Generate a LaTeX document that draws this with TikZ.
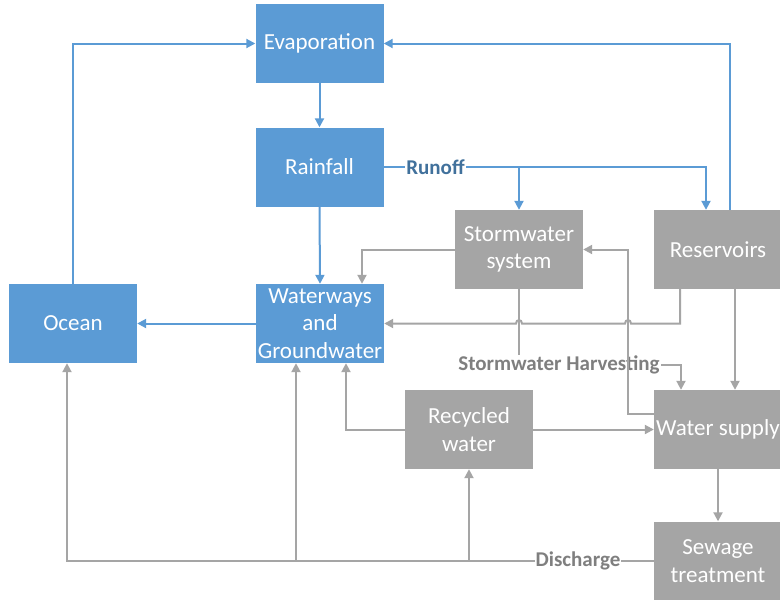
\documentclass[tikz,border=0pt]{standalone}
\usepackage{fontspec}
\setmainfont{Carlito}
\usetikzlibrary{arrows.meta,calc}
\definecolor{bl}{HTML}{5B9BD5}
\definecolor{gr}{HTML}{A5A5A5}
\definecolor{bltext}{HTML}{41719C}
\definecolor{grtext}{HTML}{7F7F7F}
\tikzset{
  box/.style={rectangle, inner sep=0pt, minimum width=128pt, minimum height=79pt, align=center, text=white, font=\fontsize{23}{27.5}\selectfont},
  bbox/.style={box, fill=bl},
  gbox/.style={box, fill=gr},
  bconn/.style={draw=bl, line width=2pt, -{Triangle[length=9pt,width=9pt]}},
  gconn/.style={draw=gr, line width=2pt, -{Triangle[length=9pt,width=9pt]}},
  blab/.style={fill=white, inner sep=1pt, text=bltext, font=\fontsize{21}{24}\selectfont\bfseries},
  glab/.style={fill=white, inner sep=1pt, text=grtext, font=\fontsize{21}{24}\selectfont\bfseries},
}
\begin{document}
\begin{tikzpicture}[x=1pt,y=-1pt]
\fill[white] (0,0) rectangle (780,600);
\useasboundingbox (0,0) rectangle (780,600);
% boxes
\node[bbox] (evap) at (319.5,43.5) {Evaporation};
\node[bbox] (rain) at (319.5,167) {Rainfall};
\node[bbox] (ocean) at (73,323.5) {Ocean};
\node[bbox] (ww) at (320,323.5) {Waterways\\and\\Groundwater};
\node[gbox] (stor) at (519,249.5) {Stormwater\\system};
\node[gbox] (res) at (718,249.5) {Reservoirs};
\node[gbox] (rec) at (469,429.5) {Recycled\\water};
\node[gbox] (ws) at (718,429.5) {Water supply};
\node[gbox] (sew) at (718,561) {Sewage\\treatment};
% coordinates
\coordinate (runR) at (706,167);
\coordinate (resUp) at ($(res.north)+(12,0)$);
\coordinate (resL) at ($(res.south)+(-38,0)$);
\coordinate (resR) at ($(res.south)+(17,0)$);
\coordinate (harvY) at (681,365);
\coordinate (wsA) at ($(ws.west)+(0,-16)$);
\coordinate (c628) at (628,0);
\coordinate (disL) at (67,561);
\coordinate (b296) at (296,561);
\coordinate (b469) at (469,561);
% blue connectors
\draw[bconn] (ocean.north) |- (evap.west);
\draw[bconn] (evap.south) -- (rain.north);
\draw[bconn] (rain.south) -- (ww.north);
\draw[bconn] (ww.west) -- (ocean.east);
\draw[bconn] (rain.east) -- (runR) -- (runR |- res.north);
\draw[bconn] (stor.north |- rain.east) -- (stor.north);
\node[blab] (runoff) at (435.5,167) {Runoff};
\draw[bconn] (resUp) |- (evap.east);
% gray connectors
\draw[gconn] (stor.west) -| ($(ww.north)+(42,0)$);
\draw[gconn] (resL) -- (680,323.5) -- (631,323.5) .. controls (631,319) and (625,319) .. (625,323.5) -- (522,323.5) .. controls (522,319) and (516,319) .. (516,323.5) -- (ww.east);
\draw[gconn] (stor.south) -- (519,365) -- (harvY) -- (harvY |- ws.north);
\node[glab] (harv) at (559,365) {Stormwater Harvesting};
\draw[gconn] (resR) -- (resR |- ws.north);
\draw[gconn] (wsA) -| (c628 |- stor.east) -- (stor.east);
\draw[gconn] (rec.east) -- (ws.west);
\draw[gconn] (rec.west) -| ($(ww.south)+(26,0)$);
\draw[gconn] (ws.south) -- (sew.north);
\draw[gconn] (sew.west) -- (disL) -- (disL |- ocean.south);
\draw[gconn] (b296) -- (b296 |- ww.south);
\draw[gconn] (b469) -- (rec.south);
\node[glab] (dis) at (578,561) {Discharge};
\end{tikzpicture}
\end{document}
